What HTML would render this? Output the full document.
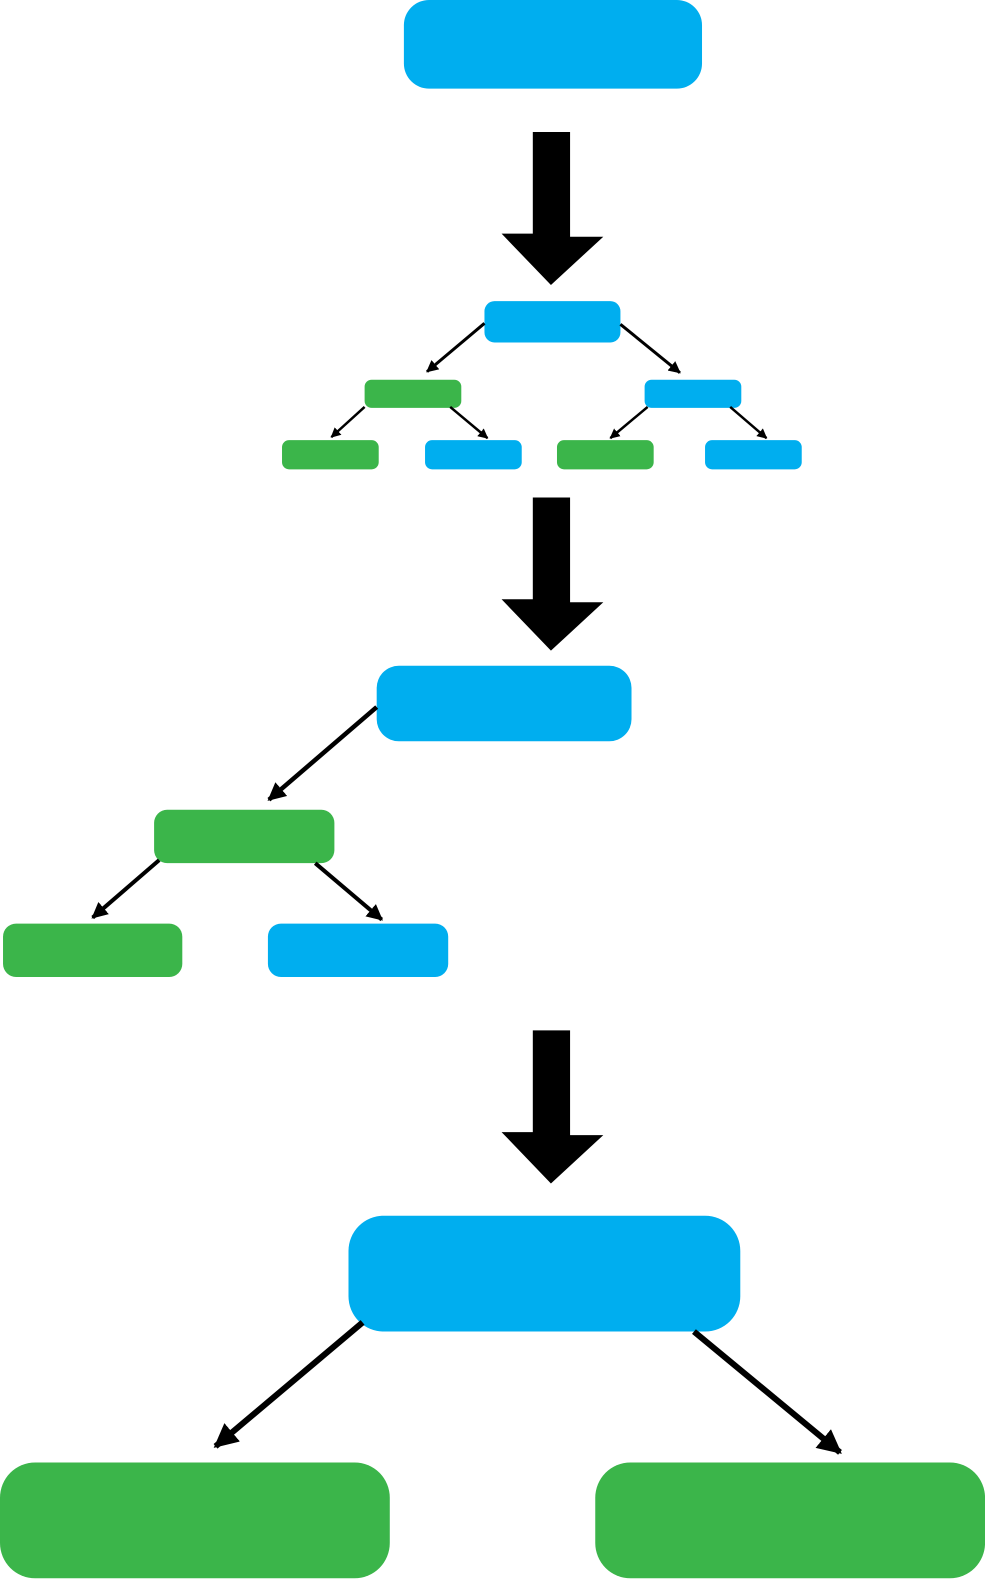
<!DOCTYPE html>
<html><head><meta charset="utf-8"><style>html,body{margin:0;padding:0;background:#fff}svg{display:block}</style></head>
<body>
<svg width="985" height="1580" viewBox="0 0 985 1580" xmlns="http://www.w3.org/2000/svg">
<defs>
<marker id="ah" viewBox="0 0 10 10" refX="9" refY="5" markerWidth="4" markerHeight="4" orient="auto" markerUnits="strokeWidth">
<path d="M0,0 L10,5 L0,10 z" fill="#000"/>
</marker>
</defs>
<g transform="scale(1.0072)">
<g fill="#00aeef">
<rect x="401" y="0" width="296" height="88" rx="25"/>
<rect x="481" y="299" width="135" height="41" rx="10"/>
<rect x="640" y="377" width="96" height="28" rx="7"/>
<rect x="422" y="437" width="96" height="29" rx="7"/>
<rect x="700" y="437" width="96" height="29" rx="7"/>
<rect x="374" y="661" width="253" height="75" rx="22"/>
<rect x="266" y="917" width="179" height="53" rx="13"/>
<rect x="346" y="1207" width="389" height="115" rx="35"/>
</g>
<g fill="#3bb54a">
<rect x="362" y="377" width="96" height="28" rx="7"/>
<rect x="280" y="437" width="96" height="29" rx="7"/>
<rect x="553" y="437" width="96" height="29" rx="7"/>
<rect x="153" y="804" width="179" height="53" rx="13"/>
<rect x="3" y="917" width="178" height="53" rx="13"/>
<rect x="0" y="1452" width="387" height="115" rx="35"/>
<rect x="591" y="1452" width="387" height="115" rx="35"/>
</g>
<g fill="#000">
<polygon points="529,131 566,131 566,235 599,235 547,283 498,232 529,232"/>
<polygon points="529,494 566,494 566,598 599,598 547,646 498,595 529,595"/>
<polygon points="529,1023 566,1023 566,1127 599,1127 547,1175 498,1124 529,1124"/>
</g>
<g stroke="#000" fill="none" marker-end="url(#ah)">
<line x1="481" y1="321" x2="424" y2="369" stroke-width="3"/>
<line x1="616" y1="322" x2="675" y2="370" stroke-width="3"/>
<line x1="362" y1="404" x2="329" y2="434" stroke-width="2.5"/>
<line x1="447" y1="404" x2="484" y2="435" stroke-width="2.5"/>
<line x1="643" y1="404" x2="606" y2="435" stroke-width="2.5"/>
<line x1="725" y1="404" x2="761" y2="435" stroke-width="2.5"/>
<line x1="374" y1="702" x2="267" y2="794" stroke-width="4.5"/>
<line x1="158" y1="854" x2="92" y2="911" stroke-width="4"/>
<line x1="313" y1="857" x2="379" y2="913" stroke-width="4"/>
<line x1="360" y1="1313" x2="214" y2="1436" stroke-width="6"/>
<line x1="689" y1="1322" x2="834" y2="1442" stroke-width="6"/>
</g>
</g>
</svg>
</body></html>
